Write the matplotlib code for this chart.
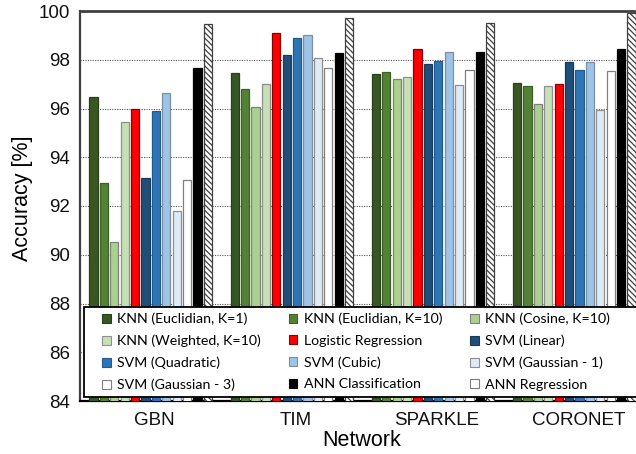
import matplotlib
matplotlib.use("Agg")
import matplotlib.pyplot as plt
from matplotlib.patches import Patch, Rectangle
from matplotlib.transforms import ScaledTranslation
import numpy as np

networks = ["GBN", "TIM", "SPARKLE", "CORONET"]

methods = [
    "KNN (Euclidian, K=1)", "KNN (Euclidian, K=10)", "KNN (Cosine, K=10)",
    "KNN (Weighted, K=10)", "Logistic Regression", "SVM (Linear)",
    "SVM (Quadratic)", "SVM (Cubic)", "SVM (Gaussian - 1)",
    "SVM (Gaussian - 3)", "ANN Classification", "ANN Regression",
]

# accuracy [%] per method, one value per network (GBN, TIM, SPARKLE, CORONET)
knn_euclid_1 = [96.48, 97.47, 97.42, 97.06]
knn_euclid_10 = [92.96, 96.79, 97.50, 96.92]
knn_cosine_10 = [90.51, 96.05, 97.22, 96.17]
knn_weighted_10 = [95.46, 97.00, 97.28, 96.92]
logistic_regression = [95.98, 99.08, 98.43, 97.01]
svm_linear = [93.14, 98.18, 97.83, 97.89]
svm_quadratic = [95.88, 98.89, 97.95, 97.59]
svm_cubic = [96.62, 99.03, 98.30, 97.91]
svm_gaussian_1 = [91.81, 98.06, 96.98, 95.94]
svm_gaussian_3 = [93.07, 97.65, 97.58, 97.55]
ann_classification = [97.65, 98.26, 98.33, 98.43]
ann_regression = [99.47, 99.71, 99.52, 99.93]

series = [
    knn_euclid_1, knn_euclid_10, knn_cosine_10, knn_weighted_10,
    logistic_regression, svm_linear, svm_quadratic, svm_cubic,
    svm_gaussian_1, svm_gaussian_3, ann_classification, ann_regression,
]

fills = ["#385723", "#548235", "#a9d18e", "#c5e0b4", "#ff0000", "#1f4e79",
         "#2e75b6", "#9dc3e6", "#deebf7", "#ffffff", "#000000", "#ffffff"]
edges = ["#2a3f1c", "#3f5f28", "#7f7f7f", "#8f8f8f", "#8a0000", "#1a3a5a",
         "#1f5a90", "#7f8f9f", "#8f8f8f", "#7f7f7f", "#000000", "#404040"]

yticks = [84, 86, 88, 90, 92, 94, 96, 98, 100]

W, H = 636, 454
fig = plt.figure(figsize=(W / 100, H / 100), dpi=100)
ax_left, ax_right, ax_top, ax_bottom = 80, 645, 11, 401
ax_w, ax_h = ax_right - ax_left, ax_bottom - ax_top
ax = fig.add_axes([ax_left / W, 1 - ax_bottom / H, ax_w / W, ax_h / H])

plt.rcParams["hatch.linewidth"] = 0.9
plt.rcParams["hatch.color"] = "#303030"

x = np.arange(len(networks))
pitch = 0.0736
width = 0.058
for k, vals in enumerate(series):
    off = (k - (len(series) - 1) / 2) * pitch
    kw = {}
    if k == len(series) - 1:
        kw["hatch"] = "\\\\\\\\\\\\"
    ax.bar(x + off, vals, width=width, bottom=0, color=fills[k],
           edgecolor=edges[k], linewidth=0.9, zorder=3, **kw)

ax.set_xlim(-0.5, len(networks) - 0.5)
ax.set_ylim(84, 100)
ax.set_yticks(yticks)
ax.set_yticklabels([str(t) for t in yticks])
ax.set_xticks(x)
ax.set_xticklabels(networks)
ax.grid(axis="y", linestyle=(0, (1, 1.2)), color="#555555", linewidth=0.8, zorder=0)
ax.set_axisbelow(True)
ax.tick_params(axis="both", length=0, labelsize=13.5, labelcolor="#111111")
ax.tick_params(axis="y", pad=7)
ax.tick_params(axis="x", pad=8)
for lab in ax.get_xticklabels() + ax.get_yticklabels():
    lab.set_family("Liberation Sans")
shift = ScaledTranslation(4 / 100, 0, fig.dpi_scale_trans)
for lab in ax.get_xticklabels():
    lab.set_transform(lab.get_transform() + shift)

ax.spines["left"].set_color("#404040")
ax.spines["left"].set_linewidth(1.6)
ax.spines["top"].set_color("#404040")
ax.spines["top"].set_linewidth(2.0)
ax.spines["bottom"].set_color("#000000")
ax.spines["bottom"].set_linewidth(1.6)
ax.spines["right"].set_visible(False)

ax.set_ylabel("Accuracy [%]", family="Liberation Sans", fontsize=15.5)
ax.set_xlabel("Network", family="Liberation Sans", fontsize=15.5)
ax.yaxis.set_label_coords((33 - ax_left) / ax_w, (ax_bottom - 198) / ax_h)
ax.xaxis.set_label_coords((362 - ax_left) / ax_w, (ax_bottom - 430) / ax_h)

# legend box: white panel running off the right edge of the plot
box_top, box_bot = 307, 397
ax.add_patch(Rectangle(((84 - ax_left) / ax_w, (ax_bottom - box_bot) / ax_h),
                       (680 - 84) / ax_w, (box_bot - box_top) / ax_h,
                       transform=ax.transAxes, facecolor="white",
                       edgecolor="black", linewidth=1.3, zorder=4, clip_on=False))

# legend entries laid out row by row across three columns
ncol = 3
nrow = len(methods) // ncol
order = [r * ncol + c for c in range(ncol) for r in range(nrow)]
handles = [Patch(facecolor=fills[k], edgecolor=edges[k] if k != 11 else "#7f7f7f",
                 linewidth=0.8) for k in order]
labels = [methods[k] for k in order]
leg = ax.legend(handles, labels, ncol=ncol, loc="center left",
                bbox_to_anchor=((102 - ax_left) / ax_w, (ax_bottom - box_bot) / ax_h,
                                (610 - 102) / ax_w, (box_bot - box_top) / ax_h),
                mode="expand", frameon=False,
                prop={"family": "Lato", "size": 10.2}, handlelength=0.6,
                handleheight=0.6, handletextpad=0.45, labelspacing=0.66,
                borderpad=0, borderaxespad=0, columnspacing=1.0)
leg.set_zorder(5)

fig.savefig("out.png", dpi=100)
